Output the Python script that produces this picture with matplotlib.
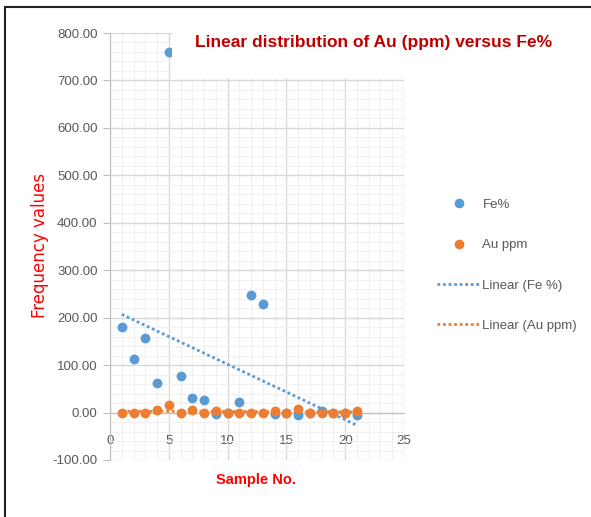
import matplotlib.pyplot as plt
import numpy as np
from matplotlib.lines import Line2D
from matplotlib.patches import Rectangle

# data
sample = np.arange(1, 22)
fe = [180, 113, 158, 62, 760, 77, 30, 27, -4, 0, 22, 248, 228, -4, 0, -5, 0, 4, 0, 0, -5]
au = [0, 0, 0, 5, 15, 0, 5, 0, 3, 0, 0, 0, 0, 3, 0, 8, 0, 0, 0, 0, 4]

blue = '#5B9BD5'
orange = '#ED7D31'
grey = '#595959'

plt.rcParams['font.family'] = ['Liberation Sans', 'DejaVu Sans']

fig = plt.figure(figsize=(5.91, 5.17), dpi=100)
ax = fig.add_axes([110/591, 1-460/517, 294/591, 427/517])

ax.scatter(sample, fe, s=50, color=blue, zorder=3, linewidths=0)
ax.scatter(sample, au, s=50, color=orange, zorder=4, linewidths=0)

# linear trend lines (least squares)
xf = np.array([sample[0], sample[-1]])
pf = np.polyfit(sample, fe, 1)
pa = np.polyfit(sample, au, 1)
ax.plot(xf, np.polyval(pf, xf), color=blue, lw=2, dashes=(1, 1), zorder=2)
ax.plot(xf, np.polyval(pa, xf), color=orange, lw=2, dashes=(1, 1), zorder=2)

ax.set_xlim(0, 25)
ax.set_ylim(-100, 800)
ax.set_xticks(np.arange(0, 26, 5))
ax.set_yticks(np.arange(-100, 801, 100))
ax.set_xticks(np.arange(0, 26, 1), minor=True)
ax.set_yticks(np.arange(-100, 801, 20), minor=True)
ax.set_yticklabels(['%.2f' % v for v in np.arange(-100, 801, 100)])
ax.grid(True, which='major', color='#d9d9d9', lw=1)
ax.grid(True, which='minor', color='#f0f0f0', lw=0.8)
ax.set_axisbelow(True)

for s in ['top', 'right']:
    ax.spines[s].set_visible(False)
ax.spines['bottom'].set_position(('data', 0))
ax.spines['bottom'].set_color('#bfbfbf')
ax.spines['left'].set_color('#bfbfbf')
ax.tick_params(axis='both', which='minor', length=0)
ax.tick_params(axis='y', which='major', colors='#bfbfbf', labelcolor=grey,
               labelsize=9.5, length=5, pad=4)
ax.tick_params(axis='x', which='major', colors='#bfbfbf', labelcolor=grey,
               labelsize=9.5, length=0, pad=16)

fig.text(256/591, 1-480/517, 'Sample No.', color='#FF0000', fontsize=10.5,
         fontweight='bold', ha='center', va='center')
fig.text(40/591, 1-245/517, 'Frequency values', color='#FF0000', fontsize=12,
         rotation=90, ha='center', va='center', family='DejaVu Sans')

# white box behind the title
fig.patches.append(Rectangle((172/591, 1-78/517), 410/591, 62/517,
                             transform=fig.transFigure, facecolor='white',
                             edgecolor='none', zorder=1))
fig.text(374/591, 1-42/517, 'Linear distribution of Au (ppm) versus Fe%',
         color='#C00000', fontsize=12.5, fontweight='bold', ha='center', va='center', zorder=2)

handles = [Line2D([], [], ls='none', marker='o', ms=7, color=blue, mec='none'),
           Line2D([], [], ls='none', marker='o', ms=7, color=orange, mec='none'),
           Line2D([], [], color=blue, lw=2, dashes=(1, 1)),
           Line2D([], [], color=orange, lw=2, dashes=(1, 1))]
labels = ['Fe%', 'Au ppm', 'Linear (Fe %)', 'Linear (Au ppm)']
leg = fig.legend(handles, labels, loc='upper left', bbox_to_anchor=(425/591, 1-187/517),
                 frameon=False, fontsize=9.5, labelspacing=2.12, handlelength=3.3,
                 handletextpad=0.15, labelcolor=grey)

# figure frame
fig.patches.append(Rectangle((5/591, -0.1), 1.1, 1.1 - 7/517, transform=fig.transFigure,
                             facecolor='none', edgecolor='#222222', lw=1.5, zorder=5))

fig.savefig('out.png', dpi=100)
